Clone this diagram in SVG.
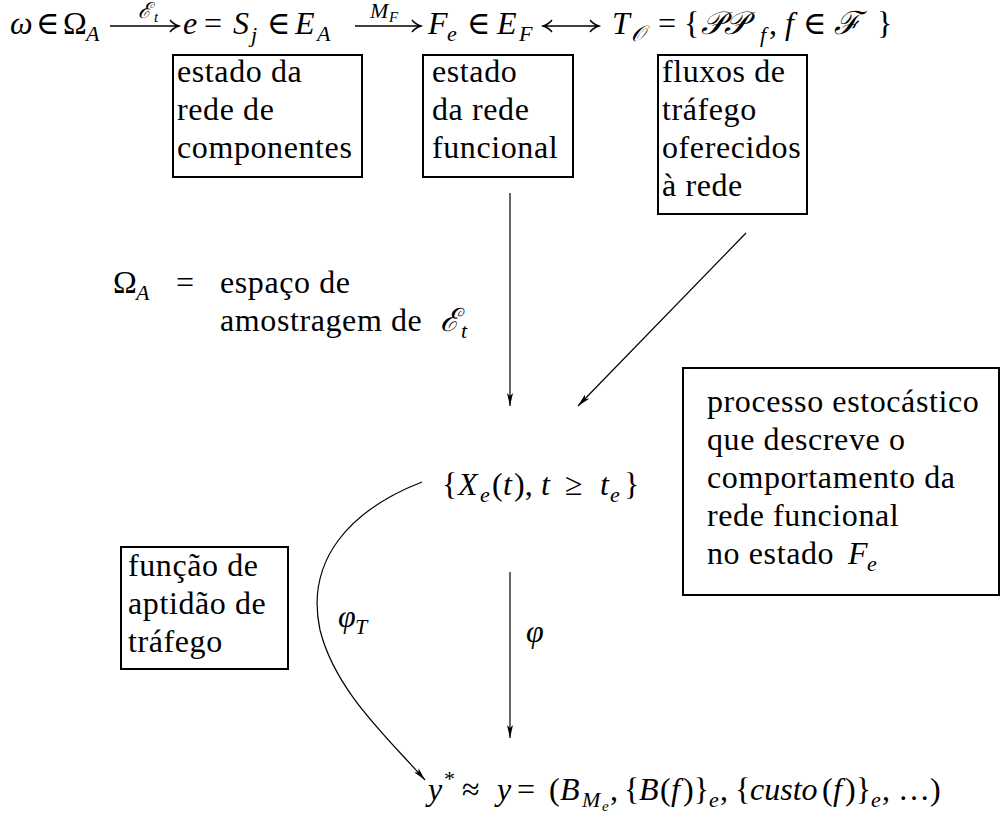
<svg xmlns="http://www.w3.org/2000/svg" width="1000" height="826" viewBox="0 0 1000 826">
<style>
.t{font-family:"Liberation Serif","DejaVu Serif",serif;font-size:32px;fill:#000;letter-spacing:0.6px}
.m{font-family:"Liberation Serif","DejaVu Serif",serif;font-size:32px;fill:#000}
.i{font-style:italic}
.s{font-size:22px}
.ss{font-size:15px}
.box{fill:none;stroke:#000;stroke-width:2}
.conn{fill:none;stroke:#000;stroke-width:1.2}
.fa{fill:none;stroke:#000;stroke-width:1.4}
</style>
<defs>
<marker id="ah" markerUnits="userSpaceOnUse" markerWidth="14" markerHeight="10" refX="13" refY="5" orient="auto">
<path d="M0,2 L13,5 L0,8 L3,5 z" fill="#000"/>
</marker>
</defs>

<g id="formula-top">
<text class="m" y="34"><tspan x="10" class="i">ω</tspan><tspan x="36">∈</tspan><tspan x="63">Ω</tspan></text>
<text class="m s i" x="86" y="41">A</text>
<text class="m s i" x="138" y="18">ℰ</text><text class="m ss i" x="154" y="22">t</text>
<path class="fa" d="M110,26 H178 M170,20 Q173,24 179,26 Q173,28 170,32"/>
<text class="m" y="34"><tspan x="183" class="i">e</tspan><tspan x="204">=</tspan><tspan x="233" class="i">S</tspan></text>
<text class="m s i" x="251" y="42">j</text>
<text class="m" x="267" y="34">∈</text>
<text class="m i" x="295" y="34">E</text><text class="m s i" x="317" y="41">A</text>
<text class="m s i" x="370" y="18">M</text><text class="m ss i" x="389" y="22">F</text>
<path class="fa" d="M355,26 H420 M412,20 Q415,24 421,26 Q415,28 412,32"/>
<text class="m i" x="428" y="34">F</text><text class="m s i" x="447" y="41">e</text>
<text class="m" x="467" y="34">∈</text>
<text class="m i" x="497" y="34">E</text><text class="m s i" x="519" y="41">F</text>
<path class="fa" d="M544,26 H598 M590,20 Q593,24 599,26 Q593,28 590,32 M552,20 Q549,24 543,26 Q549,28 552,32"/>
<text class="m i" x="612" y="34">T</text><text class="m s i" x="631" y="41">𝒪</text>
<text class="m" x="658" y="34">=</text>
<text class="m" x="684" y="34">{</text>
<text class="m i" x="701" y="34">𝒫𝒫</text><text class="m s i" x="760" y="42">f</text>
<text class="m" x="769" y="34">,</text>
<text class="m i" x="785" y="34">f</text>
<text class="m" x="803" y="34">∈</text>
<text class="m i" x="834" y="34">ℱ</text>
<text class="m" x="877" y="34">}</text>
</g>

<g id="box-componentes">
<rect class="box" x="173" y="55" width="189" height="122"/>
<text class="t"><tspan x="177" y="82">estado da</tspan><tspan x="177" y="120">rede de</tspan><tspan x="177" y="158">componentes</tspan></text>
</g>

<g id="box-funcional">
<rect class="box" x="423" y="55" width="150" height="122"/>
<text class="t"><tspan x="432" y="82">estado</tspan><tspan x="432" y="120">da rede</tspan><tspan x="432" y="158">funcional</tspan></text>
</g>

<g id="box-fluxos">
<rect class="box" x="658" y="55" width="149" height="159"/>
<text class="t"><tspan x="662" y="82">fluxos de</tspan><tspan x="662" y="120">tráfego</tspan><tspan x="662" y="158">oferecidos</tspan><tspan x="662" y="196">à rede</tspan></text>
</g>

<g id="omega-def">
<text class="m" x="113" y="293">Ω</text><text class="m s i" x="136" y="300">A</text>
<text class="m" x="176" y="293">=</text>
<text class="t"><tspan x="220" y="293">espaço de</tspan><tspan x="220" y="331">amostragem de</tspan></text>
<text class="m i" x="440" y="331">ℰ</text><text class="m s i" x="461" y="338">t</text>
</g>

<g id="process">
<text class="m" y="495"><tspan x="442">{</tspan><tspan x="458" class="i">X</tspan></text>
<text class="m s i" x="480" y="502">e</text>
<text class="m" y="495"><tspan x="492">(</tspan><tspan x="503" class="i">t</tspan><tspan x="514">),</tspan><tspan x="541" class="i">t</tspan><tspan x="565">≥</tspan><tspan x="600" class="i">t</tspan></text>
<text class="m s i" x="610" y="502">e</text>
<text class="m" x="624" y="495">}</text>
</g>

<g id="box-processo">
<rect class="box" x="683" y="368" width="316" height="227"/>
<text class="t"><tspan x="707" y="412">processo estocástico</tspan><tspan x="707" y="450">que descreve o</tspan><tspan x="707" y="488">comportamento da</tspan><tspan x="707" y="526">rede funcional</tspan><tspan x="707" y="564">no estado </tspan></text>
<text class="m i" x="848" y="564">F</text><text class="m s i" x="867" y="571">e</text>
</g>

<g id="box-aptidao">
<rect class="box" x="121" y="547" width="167" height="122"/>
<text class="t"><tspan x="128" y="576">função de</tspan><tspan x="128" y="614">aptidão de</tspan><tspan x="128" y="652">tráfego</tspan></text>
</g>

<g id="result">
<text class="m i" x="428" y="800">y</text><text class="m s" x="444" y="786">*</text>
<text class="m" x="462" y="800">≈</text>
<text class="m" y="800"><tspan x="497" class="i">y</tspan><tspan x="517">=</tspan><tspan x="549">(</tspan><tspan x="560" class="i">B</tspan></text>
<text class="m s i" x="582" y="807">M</text><text class="m ss i" x="602" y="811">e</text>
<text class="m" y="800"><tspan x="610">,</tspan><tspan x="624">{</tspan><tspan x="639" class="i">B</tspan><tspan x="660">(</tspan><tspan x="671" class="i">f</tspan><tspan x="683">)}</tspan></text>
<text class="m s i" x="709" y="807">e</text>
<text class="m" x="720" y="800">,</text>
<text class="m" y="800"><tspan x="735">{</tspan><tspan x="750" class="i">custo</tspan><tspan x="822">(</tspan><tspan x="833" class="i">f</tspan><tspan x="845">)}</tspan></text>
<text class="m s i" x="871" y="807">e</text>
<text class="m" x="882" y="800">, …)</text>
</g>

<g id="labels">
<text class="m i" x="338" y="627">φ</text><text class="m s i" x="355" y="634">T</text>
<text class="m i" x="526" y="642">φ</text>
</g>

<g id="connectors">
<line class="conn" x1="510" y1="193" x2="510" y2="406" marker-end="url(#ah)"/>
<line class="conn" x1="746" y1="233" x2="578" y2="406" marker-end="url(#ah)"/>
<path class="conn" d="M422,482 C350,510 305,560 320,630 C335,690 385,735 425,780" marker-end="url(#ah)"/>
<line class="conn" x1="510" y1="572" x2="510" y2="738" marker-end="url(#ah)"/>
</g>
</svg>
